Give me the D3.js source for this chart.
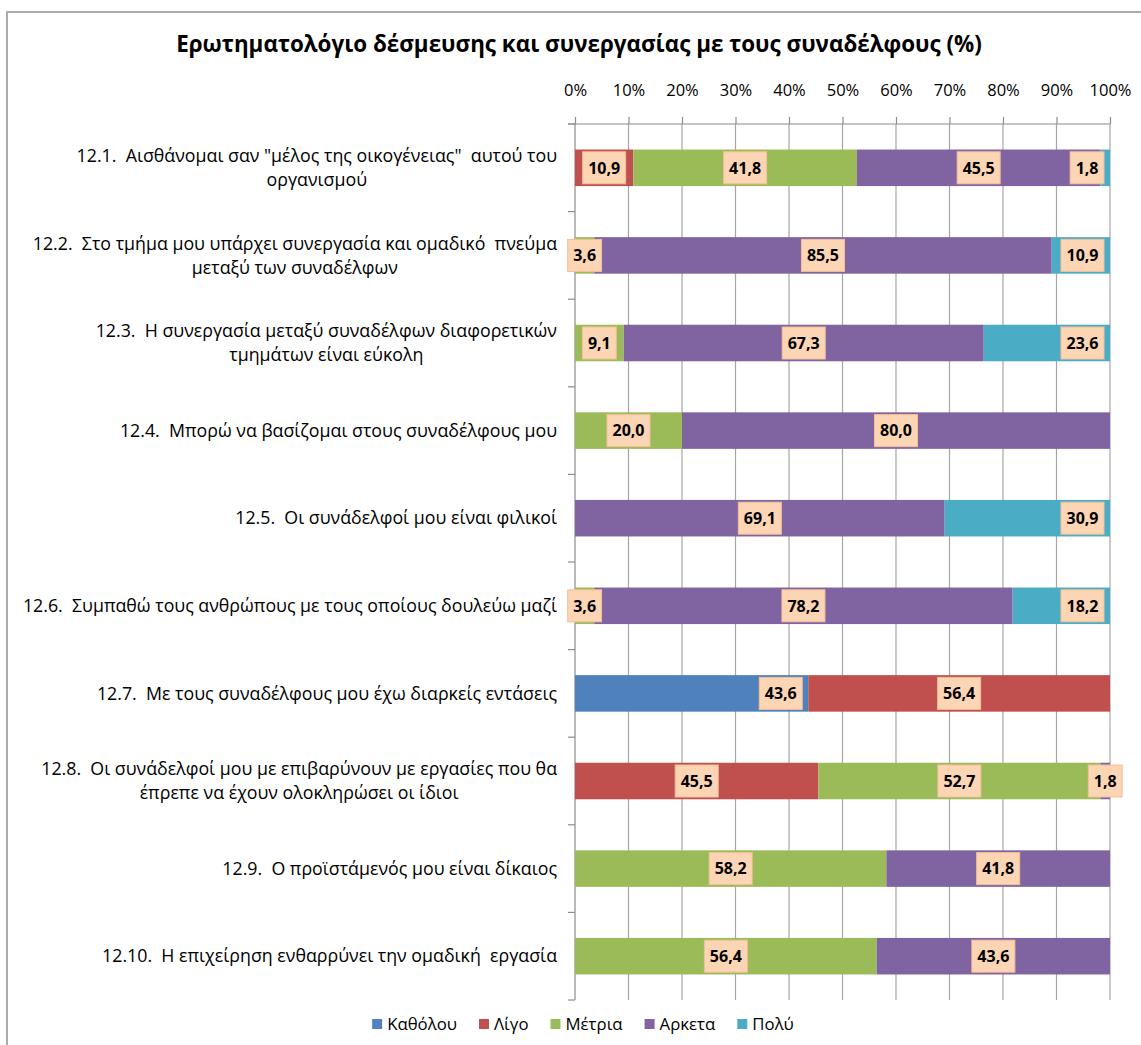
<!DOCTYPE html>
<html>
<head>
<meta charset="utf-8">
<script src="https://cdn.jsdelivr.net/npm/d3@7"></script>
<style>
  html, body { margin: 0; padding: 0; background: #fff; }
  svg { display: block; }
  text { font-family: "Open Sans", "Noto Sans", sans-serif; fill: #000; white-space: pre; }
</style>
</head>
<body>
<svg id="chart" width="1141" height="1045"></svg>
<script>
// ---- data ----
const title = "Ερωτηματολόγιο δέσμευσης και συνεργασίας με τους συναδέλφους (%)";
const categories = ["12.1", "12.2", "12.3", "12.4", "12.5", "12.6", "12.7", "12.8", "12.9", "12.10"];
const categoryLabels = [
  ["12.1.  Αισθάνομαι σαν \"μέλος της οικογένειας\"  αυτού του", "οργανισμού"],
  ["12.2.  Στο τμήμα μου υπάρχει συνεργασία και ομαδικό  πνεύμα", "μεταξύ των συναδέλφων"],
  ["12.3.  Η συνεργασία μεταξύ συναδέλφων διαφορετικών", "τμημάτων είναι εύκολη"],
  ["12.4.  Μπορώ να βασίζομαι στους συναδέλφους μου"],
  ["12.5.  Οι συνάδελφοί μου είναι φιλικοί"],
  ["12.6.  Συμπαθώ τους ανθρώπους με τους οποίους δουλεύω μαζί"],
  ["12.7.  Με τους συναδέλφους μου έχω διαρκείς εντάσεις"],
  ["12.8.  Οι συνάδελφοί μου με επιβαρύνουν με εργασίες που θα", "έπρεπε να έχουν ολοκληρώσει οι ίδιοι"],
  ["12.9.  Ο προϊστάμενός μου είναι δίκαιος"],
  ["12.10.  Η επιχείρηση ενθαρρύνει την ομαδική  εργασία"]
];
const seriesNames = ["Καθόλου", "Λίγο", "Μέτρια", "Αρκετα", "Πολύ"];
const katholou = [0, 0, 0, 0, 0, 0, 43.6, 0, 0, 0];
const ligo     = [10.9, 0, 0, 0, 0, 0, 56.4, 45.5, 0, 0];
const metria   = [41.8, 3.6, 9.1, 20.0, 0, 3.6, 0, 52.7, 58.2, 56.4];
const arketa   = [45.5, 85.5, 67.3, 80.0, 69.1, 78.2, 0, 1.8, 41.8, 43.6];
const poly     = [1.8, 10.9, 23.6, 0, 30.9, 18.2, 0, 0, 0, 0];
const xTicks = [0, 10, 20, 30, 40, 50, 60, 70, 80, 90, 100];
const seriesColors = ["#4F81BD", "#C0504D", "#9BBB59", "#8064A2", "#4BACC6"];
const labelPlacement = ["insideEnd", "center", "center", "center", "insideEnd"];

const seriesValues = [katholou, ligo, metria, arketa, poly];

// ---- layout ----
const svg = d3.select("#chart");
const plot = { left: 575, right: 1110, top: 124, bottom: 1000 };

// outer frame
svg.append("rect").attr("x", 7).attr("y", 12).attr("width", 1300).attr("height", 1200)
  .attr("fill", "none").attr("stroke", "#ABABAB").attr("stroke-width", 2);

// title
svg.append("text").attr("x", 579).attr("y", 44).attr("dy", "0.35em")
  .attr("text-anchor", "middle").attr("font-weight", "bold").attr("font-size", 22.4)
  .text(title);

const x = d3.scaleLinear().domain([0, 100]).range([plot.left, plot.right]);
const gap = 0.583;
const y = d3.scaleBand().domain(categories).range([plot.top, plot.bottom])
  .paddingInner(gap).paddingOuter(gap / 2);

// gridlines
svg.append("g").selectAll("line").data(xTicks.filter(t => t > 0)).join("line")
  .attr("x1", d => x(d)).attr("x2", d => x(d))
  .attr("y1", plot.top).attr("y2", plot.bottom)
  .attr("stroke", "#A6A6A6").attr("stroke-width", 1.2);

// top axis
const axTop = svg.append("g").attr("transform", `translate(0,${plot.top})`)
  .call(d3.axisTop(x).tickValues(xTicks).tickFormat(d => d + "%").tickSize(7).tickPadding(21));
axTop.select(".domain").attr("stroke", "#8C8C8C").attr("stroke-width", 1.2)
  .attr("d", `M${plot.left - 7},0H${plot.right}`);
axTop.selectAll(".tick line").attr("stroke", "#8C8C8C").attr("stroke-width", 1.2);
axTop.selectAll(".tick text").attr("font-size", 16.5).attr("font-family", "'Open Sans', sans-serif").attr("fill", "#000");

// left axis with ticks on category boundaries
const step = y.step();
const boundaries = categories.map(c => y(c) - step * gap / 2).concat([plot.bottom]);
const gl = svg.append("g");
gl.append("line").attr("x1", plot.left).attr("x2", plot.left)
  .attr("y1", plot.top).attr("y2", plot.bottom).attr("stroke", "#8C8C8C").attr("stroke-width", 1.2);
gl.selectAll("line.tk").data(boundaries).join("line").attr("class", "tk")
  .attr("x1", plot.left - 7).attr("x2", plot.left)
  .attr("y1", d => d).attr("y2", d => d).attr("stroke", "#8C8C8C").attr("stroke-width", 1.2);

// stacked data
const rows = categories.map((c, i) => {
  const o = { cat: c };
  seriesNames.forEach((s, k) => o[s] = seriesValues[k][i]);
  return o;
});
const stack = d3.stack().keys(seriesNames)(rows);

const barsG = svg.append("g");
stack.forEach((layer, k) => {
  barsG.append("g").selectAll("rect").data(layer.filter(d => d[1] - d[0] > 0)).join("rect")
    .attr("x", d => x(d[0])).attr("width", d => x(d[1]) - x(d[0]))
    .attr("y", d => y(d.data.cat)).attr("height", y.bandwidth())
    .attr("fill", seriesColors[k]);
});

// data labels
const labG = svg.append("g");
stack.forEach((layer, k) => {
  layer.filter(d => d[1] - d[0] > 0).forEach(d => {
    const txt = (d[1] - d[0]).toFixed(1).replace(".", ",");
    const cy = y(d.data.cat) + y.bandwidth() / 2;
    const g = labG.append("g");
    const t = g.append("text").attr("font-weight", "bold").attr("font-size", 16)
      .attr("text-anchor", "middle").attr("dy", "0.36em").text(txt);
    const w = t.node().getComputedTextLength() + 11;
    let cx;
    if (labelPlacement[k] === "insideEnd") cx = x(d[1]) - 6 - w / 2;
    else cx = (x(d[0]) + x(d[1])) / 2;
    t.attr("x", cx).attr("y", cy);
    g.insert("rect", "text").attr("x", cx - w / 2).attr("y", cy - 16)
      .attr("width", w).attr("height", 32)
      .attr("fill", "#FCD5B5").attr("stroke", "#F5BE97").attr("stroke-width", 1);
  });
});

// category labels
const catG = svg.append("g");
categoryLabels.forEach((lines, i) => {
  const cy = y(categories[i]) + y.bandwidth() / 2;
  const lh = 24;
  const g = catG.append("g");
  const ts = lines.map((ln, j) => g.append("text").attr("font-size", 17.8)
    .attr("text-anchor", "middle").attr("dy", "0.35em")
    .attr("y", cy + (j - (lines.length - 1) / 2) * lh).text(ln));
  const maxW = d3.max(ts, t => t.node().getComputedTextLength());
  ts.forEach(t => t.attr("x", 557 - maxW / 2));
});

// legend
const legG = svg.append("g");
let lx = 0;
seriesNames.forEach((s, k) => {
  const g = legG.append("g").attr("transform", `translate(${lx},0)`);
  g.append("rect").attr("x", 0).attr("y", -5).attr("width", 10).attr("height", 10).attr("fill", seriesColors[k]);
  const t = g.append("text").attr("x", 15).attr("dy", "0.35em").attr("font-size", 16.8).text(s);
  const w = 15 + t.node().getComputedTextLength();
  lx += w + 22;
});
const totalW = lx - 22;
legG.attr("transform", `translate(${583 - totalW / 2},1024)`);
</script>
</body>
</html>
